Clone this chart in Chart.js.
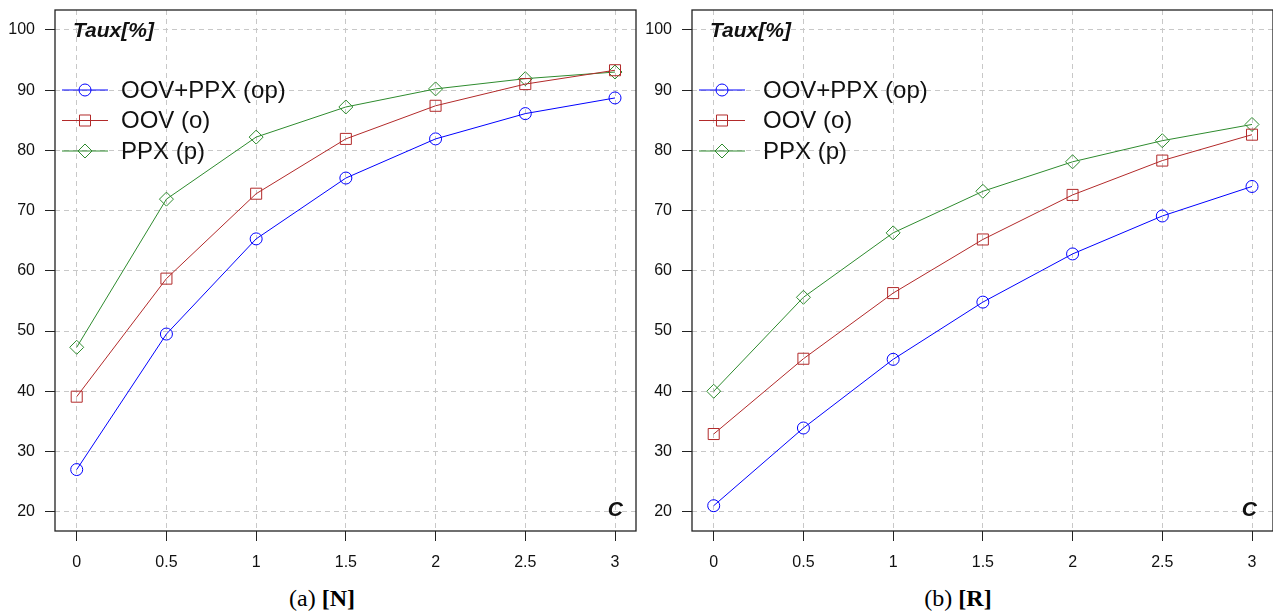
<!DOCTYPE html>
<html>
<head>
<meta charset="utf-8">
<script src="https://cdn.jsdelivr.net/npm/chart.js@4.4.1/dist/chart.umd.min.js"></script>
<style>
body{margin:0;background:#fff;width:1273px;height:615px;overflow:hidden;position:relative}
canvas{position:absolute;top:0}
#chartN{left:0}
#chartR{left:640px}
.cap{position:absolute;top:585px;font-family:"Liberation Serif";font-size:24px;color:#000;transform:translateX(-50%);white-space:nowrap}
</style>
</head>
<body>
<canvas id="chartN" width="640" height="575"></canvas>
<canvas id="chartR" width="633" height="575"></canvas>
<div class="cap" style="left:322px">(a) <b>[N]</b></div>
<div class="cap" style="left:958px">(b) <b>[R]</b></div>
<script>
// valeurs de C (axe x)
var cValues = [0, 0.5, 1, 1.5, 2, 2.5, 3];
var xTickLabels = ['0', '0.5', '1', '1.5', '2', '2.5', '3'];
var yTicks = [20, 30, 40, 50, 60, 70, 80, 90, 100];
var seriesNames = ['OOV+PPX (op)', 'OOV (o)', 'PPX (p)'];

// (a) [N]
var opN = [27.0, 49.5, 65.3, 75.4, 81.9, 86.1, 88.7];
var oN  = [39.1, 58.7, 72.8, 81.9, 87.4, 91.0, 93.3];
var pN  = [47.3, 71.9, 82.2, 87.2, 90.2, 91.9, 93.0];

// (b) [R]
var opR = [21.0, 33.9, 45.3, 54.8, 62.8, 69.1, 74.0];
var oR  = [32.9, 45.4, 56.3, 65.2, 72.6, 78.3, 82.6];
var pR  = [40.0, 55.6, 66.3, 73.2, 78.1, 81.6, 84.3];

var couleurs = ['#0000ff', '#b22a2a', '#2e8b2e'];
var formes = ['circle', 'rect', 'rectRot'];
var tailles = [6, 7.8, 7];

function dessinerMarque(ctx, forme, x, y, r){
    ctx.beginPath();
    if (forme == 'circle') {
        ctx.arc(x, y, r, 0, Math.PI * 2);
    } else if (forme == 'rect') {
        var h = r * Math.SQRT1_2;
        ctx.rect(x - h, y - h, 2 * h, 2 * h);
    } else {
        ctx.moveTo(x, y - r); ctx.lineTo(x + r, y); ctx.lineTo(x, y + r); ctx.lineTo(x - r, y); ctx.closePath();
    }
    ctx.stroke();
}

var cadre = {
    id: 'cadre',
    afterDraw: function(chart, args, opts){
        var ctx = chart.ctx, a = chart.chartArea;
        ctx.save();
        ctx.strokeStyle = '#222';
        ctx.lineWidth = 1.3;
        ctx.strokeRect(a.left, a.top, a.right - a.left, a.bottom - a.top);

        // legende
        ctx.font = '24px "Liberation Sans", Arial, sans-serif';
        ctx.textBaseline = 'middle';
        ctx.textAlign = 'left';
        chart.data.datasets.forEach(function(ds, i){
            var y = a.top + 80 + i * 30.5;
            ctx.strokeStyle = ds.borderColor;
            ctx.lineWidth = 1;
            ctx.beginPath();
            ctx.moveTo(a.left + 7, y); ctx.lineTo(a.left + 53, y);
            ctx.stroke();
            dessinerMarque(ctx, ds.pointStyle, a.left + 30, y, ds.pointRadius);
            ctx.fillStyle = '#111';
            ctx.fillText(ds.label, a.left + opts.texteX, y + 1);
        });

        ctx.fillStyle = '#111';
        ctx.font = 'italic bold 21px "Liberation Sans", Arial, sans-serif';
        ctx.fillText('Taux[%]', a.left + 18, a.top + 21);
        ctx.textAlign = 'right';
        ctx.fillText('C', a.right - opts.cX, a.bottom - 21);
        ctx.restore();
    }
};

function crearChart(id, series, yLargeur, texteX, cX){
    var ctx = document.getElementById(id);
    var datasets = series.map(function(vals, i){
        return {
            label: seriesNames[i],
            data: cValues.map(function(c, j){ return {x: c, y: vals[j]}; }),
            borderColor: couleurs[i],
            backgroundColor: 'rgba(0,0,0,0)',
            borderWidth: 1,
            pointStyle: formes[i],
            pointRadius: tailles[i],
            pointBorderWidth: 1,
            pointBackgroundColor: 'rgba(0,0,0,0)',
            pointBorderColor: couleurs[i],
            tension: 0,
            fill: false
        };
    });
    return new Chart(ctx, {
        type: 'line',
        data: { datasets: datasets },
        plugins: [cadre],
        options: {
            responsive: false,
            animation: false,
            devicePixelRatio: 1,
            layout: { autoPadding: false, padding: { top: 10, right: id == 'chartN' ? 4 : 0, left: 0, bottom: 0 } },
            plugins: {
                legend: { display: false },
                tooltip: { enabled: false },
                cadre: { texteX: texteX, cX: cX }
            },
            scales: {
                x: {
                    type: 'linear',
                    min: -0.121,
                    max: 3.117,
                    afterBuildTicks: function(s){ s.ticks = cValues.map(function(v){ return {value: v}; }); },
                    afterFit: function(s){ s.height = 44; s.paddingLeft = 0; s.paddingRight = 0; },
                    ticks: {
                        autoSkip: false,
                        maxRotation: 0,
                        padding: 12,
                        color: '#111',
                        font: { family: '"Liberation Sans", Arial, sans-serif', size: 16 },
                        callback: function(v, i){ return xTickLabels[i]; }
                    },
                    grid: { color: '#c8c8c8', lineWidth: 1, tickColor: '#222', tickLength: 10, tickWidth: 1, tickBorderDash: [] },
                    border: { display: false, dash: [5, 4] }
                },
                y: {
                    min: 16.8,
                    max: 103.3,
                    afterBuildTicks: function(s){ s.ticks = yTicks.map(function(v){ return {value: v}; }); },
                    afterFit: function(s){ s.width = yLargeur; s.paddingTop = 0; s.paddingBottom = 0; },
                    ticks: {
                        padding: 10,
                        color: '#111',
                        font: { family: '"Liberation Sans", Arial, sans-serif', size: 16 },
                        callback: function(v){ return String(v); }
                    },
                    grid: { color: '#c8c8c8', lineWidth: 1, tickColor: '#222', tickLength: 10, tickWidth: 1, tickBorderDash: [] },
                    border: { display: false, dash: [5, 4] }
                }
            }
        }
    });
}

crearChart('chartN', [opN, oN, pN], 55, 66, 13);
crearChart('chartR', [opR, oR, pR], 52, 71, 16);
</script>
</body>
</html>
